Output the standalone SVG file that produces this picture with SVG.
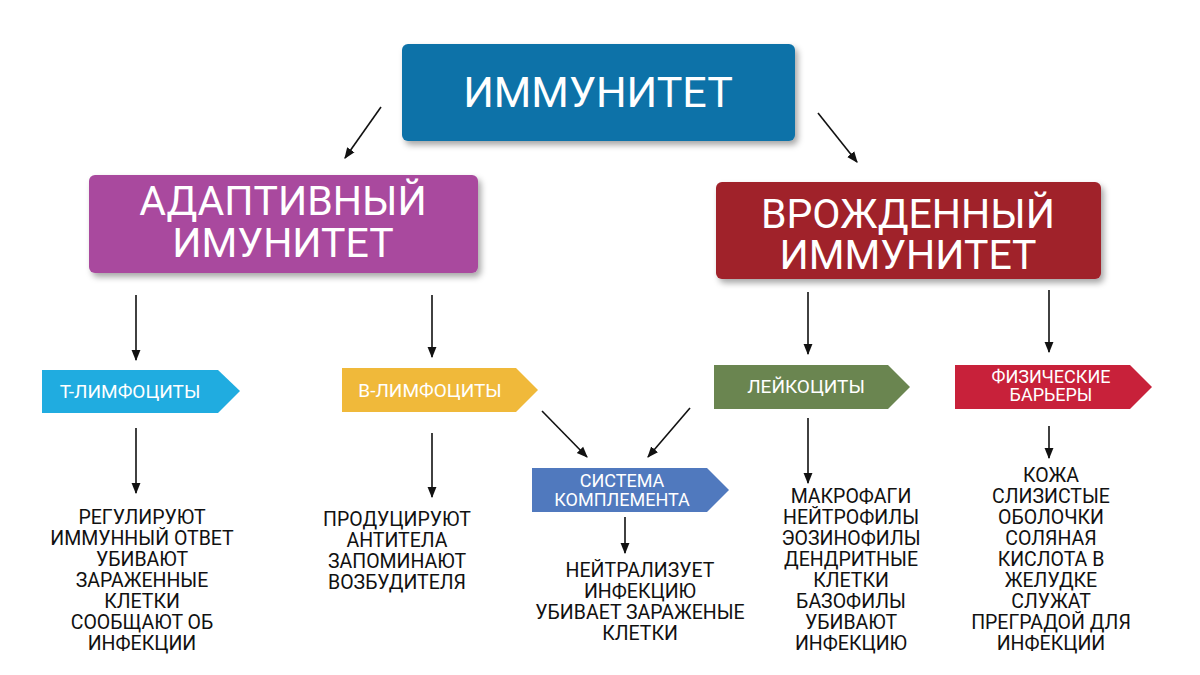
<svg xmlns="http://www.w3.org/2000/svg" width="1200" height="675" viewBox="0 0 1200 675">
<defs>
<filter id="sh" x="-10%" y="-10%" width="130%" height="140%"><feDropShadow dx="3" dy="4" stdDeviation="3" flood-color="#000" flood-opacity="0.35"/></filter>
<marker id="ah" viewBox="0 0 10 10" refX="9" refY="5" markerWidth="7" markerHeight="7" orient="auto"><path d="M0,1 L10,5 L0,9 z" fill="#111"/></marker>
</defs>
<style>
.big{font-family:Roboto,"Liberation Sans",sans-serif;fill:#fff;text-anchor:middle}
.lab{font-family:Roboto,"Liberation Sans",sans-serif;fill:#fff;text-anchor:middle;font-size:19px}
.lab2{font-family:Roboto,"Liberation Sans",sans-serif;fill:#fff;text-anchor:middle;font-size:18px}
.lst{font-family:Roboto,"Liberation Sans",sans-serif;fill:#111;text-anchor:middle;font-size:19.5px}
.c line{stroke:#111;stroke-width:1.6;marker-end:url(#ah)}
</style>
<rect width="1200" height="675" fill="#fff"/>
<g id="top"><rect x="402" y="44" width="393" height="97" rx="6" fill="#0B72A8" filter="url(#sh)"/><text class="big" x="598" y="107" font-size="43">ИММУНИТЕТ</text></g>
<g id="adaptive"><rect x="89" y="175" width="389" height="98" rx="6" fill="#A94A9E" filter="url(#sh)"/><text class="big" x="283" y="215" font-size="41">АДАПТИВНЫЙ</text><text class="big" x="283" y="257" font-size="41">ИМУНИТЕТ</text></g>
<g id="innate"><rect x="716" y="182" width="385" height="97" rx="6" fill="#A0202A" filter="url(#sh)"/><text class="big" x="908" y="228" font-size="41">ВРОЖДЕННЫЙ</text><text class="big" x="908" y="269" font-size="41">ИММУНИТЕТ</text></g>
<g id="t"><path d="M42,370 H218 L240,391 L218,413 H42 Z" fill="#20ACE0"/><text class="lab" x="130" y="398">Т-ЛИМФОЦИТЫ</text></g>
<g id="b"><path d="M342,368 H516 L538,390 L516,412 H342 Z" fill="#F0B93A"/><text class="lab" x="430" y="397">В-ЛИМФОЦИТЫ</text></g>
<g id="leuk"><path d="M714,365 H888 L910,387 L888,409 H714 Z" fill="#6A8550"/><text class="lab" x="806" y="393">ЛЕЙКОЦИТЫ</text></g>
<g id="phys"><path d="M955,365 H1130 L1152,387 L1130,409 H955 Z" fill="#C8213A"/><text class="lab2" x="1051" y="383">ФИЗИЧЕСКИЕ</text><text class="lab2" x="1051" y="401">БАРЬЕРЫ</text></g>
<g id="comp"><path d="M532,468 H707 L729,490 L707,512 H532 Z" fill="#5079BE"/><text class="lab2" x="622" y="487">СИСТЕМА</text><text class="lab2" x="622" y="506">КОМПЛЕМЕНТА</text></g>
<g id="t-list" class="lst"><text x="142" y="524">РЕГУЛИРУЮТ</text><text x="142" y="545">ИММУННЫЙ ОТВЕТ</text><text x="142" y="566">УБИВАЮТ</text><text x="142" y="587">ЗАРАЖЕННЫЕ</text><text x="142" y="608">КЛЕТКИ</text><text x="142" y="629">СООБЩАЮТ ОБ</text><text x="142" y="650">ИНФЕКЦИИ</text></g>
<g id="b-list" class="lst"><text x="397" y="526">ПРОДУЦИРУЮТ</text><text x="397" y="547">АНТИТЕЛА</text><text x="397" y="568">ЗАПОМИНАЮТ</text><text x="397" y="589">ВОЗБУДИТЕЛЯ</text></g>
<g id="c-list" class="lst"><text x="640" y="577">НЕЙТРАЛИЗУЕТ</text><text x="640" y="598">ИНФЕКЦИЮ</text><text x="640" y="619">УБИВАЕТ ЗАРАЖЕНЫЕ</text><text x="640" y="640">КЛЕТКИ</text></g>
<g id="l-list" class="lst"><text x="851" y="503">МАКРОФАГИ</text><text x="851" y="524">НЕЙТРОФИЛЫ</text><text x="851" y="545">ЭОЗИНОФИЛЫ</text><text x="851" y="566">ДЕНДРИТНЫЕ</text><text x="851" y="587">КЛЕТКИ</text><text x="851" y="608">БАЗОФИЛЫ</text><text x="851" y="629">УБИВАЮТ</text><text x="851" y="650">ИНФЕКЦИЮ</text></g>
<g id="p-list" class="lst"><text x="1051" y="482">КОЖА</text><text x="1051" y="503">СЛИЗИСТЫЕ</text><text x="1051" y="524">ОБОЛОЧКИ</text><text x="1051" y="545">СОЛЯНАЯ</text><text x="1051" y="566">КИСЛОТА В</text><text x="1051" y="587">ЖЕЛУДКЕ</text><text x="1051" y="608">СЛУЖАТ</text><text x="1051" y="629">ПРЕГРАДОЙ ДЛЯ</text><text x="1051" y="650">ИНФЕКЦИИ</text></g>
<g id="connectors" class="c">
<line x1="381" y1="107" x2="345" y2="158"/><line x1="818" y1="113" x2="857" y2="162"/>
<line x1="136" y1="295" x2="136" y2="360"/><line x1="432" y1="295" x2="432" y2="357"/>
<line x1="808" y1="292" x2="808" y2="354"/><line x1="1049" y1="290" x2="1049" y2="352"/>
<line x1="136" y1="428" x2="136" y2="493"/><line x1="432" y1="433" x2="432" y2="497"/>
<line x1="542" y1="411" x2="587" y2="457"/><line x1="690" y1="408" x2="648" y2="457"/>
<line x1="625" y1="517" x2="625" y2="553"/><line x1="808" y1="418" x2="808" y2="483"/>
<line x1="1049" y1="426" x2="1049" y2="458"/>
</g>
</svg>
